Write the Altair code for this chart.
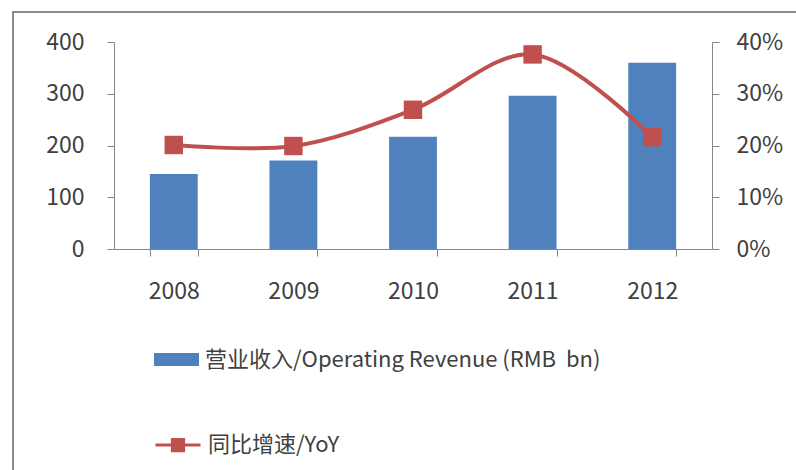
import altair as alt
import pandas as pd

years = ["2008", "2009", "2010", "2011", "2012"]
revenue = [145, 171, 217, 296, 360]
yoy = [0.201, 0.199, 0.269, 0.376, 0.216]
rev_label = "营业收入/Operating Revenue (RMB\u00a0 bn)"
yoy_label = "同比增速/YoY"
left_ticks = [0, 100, 200, 300, 400]
right_ticks = [0, 0.1, 0.2, 0.3, 0.4]

df = pd.DataFrame({"year": years, "revenue": revenue, "yoy": yoy,
                   "s1": rev_label, "s2": yoy_label})

FONT = "Noto Sans CJK SC"
TXT = "#404040"
AX = "#868686"
BLUE = "#4F81BD"
RED = "#C0504D"

x_enc = alt.X("year:N", title=None,
              scale=alt.Scale(paddingInner=0.6, paddingOuter=0.3),
              axis=alt.Axis(labelAngle=0, tickBand="extent", domainColor=AX,
                            tickColor=AX, tickSize=7, labelPadding=24,
                            labelFontSize=23, labelColor=TXT, labelFont=FONT,
                            labelFontWeight="normal"))

bars = alt.Chart(df).mark_bar().encode(
    x=x_enc,
    y=alt.Y("revenue:Q", scale=alt.Scale(domain=[0, 400]),
            axis=alt.Axis(values=left_ticks, grid=False, title=None,
                          domainColor=AX, tickColor=AX, tickSize=7,
                          labelPadding=23, labelFontSize=23, labelColor=TXT,
                          labelFont=FONT)),
    color=alt.Color("s1:N", scale=alt.Scale(range=[BLUE]),
                    legend=alt.Legend(orient="none", legendX=40, legendY=295,
                                      title=None,
                                      symbolType="M-1,-0.29H1V0.29H-1Z",
                                      symbolSize=2025, symbolStrokeWidth=0,
                                      symbolOpacity=1,
                                      labelFontSize=22, labelColor=TXT,
                                      labelFont=FONT, labelOffset=6,
                                      labelLimit=600)),
)

y2 = alt.Y("yoy:Q", scale=alt.Scale(domain=[0, 0.4]),
           axis=alt.Axis(orient="right", values=right_ticks, format=".0%",
                         grid=False, title=None, domainColor=AX, tickColor=AX,
                         tickSize=7, labelPadding=17, labelFontSize=23,
                         labelColor=TXT, labelFont=FONT))

line = alt.Chart(df).mark_line(interpolate="catmull-rom", strokeWidth=4).encode(
    x=x_enc, y=y2,
    color=alt.Color("s2:N", scale=alt.Scale(range=[RED]),
                    legend=alt.Legend(orient="none", legendX=40, legendY=379,
                                      title=None,
                                      symbolType="M-1,0H1M-0.25,-0.25H0.25V0.25H-0.25Z",
                                      symbolSize=2025, symbolStrokeWidth=3,
                                      symbolFillColor=RED, symbolStrokeColor=RED,
                                      symbolOpacity=1,
                                      labelFontSize=22, labelColor=TXT,
                                      labelFont=FONT, labelOffset=6,
                                      labelLimit=600)),
)

points = alt.Chart(df).mark_square(size=340, color=RED, opacity=1).encode(
    x=x_enc, y=y2)

frame = alt.Chart(pd.DataFrame({"a": [0]})).mark_rect(
    fillOpacity=0, stroke="#8c8c8c", strokeWidth=2).encode(
    x=alt.value(-101), y=alt.value(-30), x2=alt.value(800), y2=alt.value(520))

chart = alt.layer(frame, bars, alt.layer(line, points)).resolve_scale(
    y="independent", color="independent"
).properties(
    width=598, height=207,
    padding={"left": 114, "top": 42, "right": 84, "bottom": 221},
    autosize=alt.AutoSizeParams(type="none"),
    background="white",
).configure_view(stroke=None)

chart.save("out.html", embed_options={"renderer": "svg", "actions": False})
